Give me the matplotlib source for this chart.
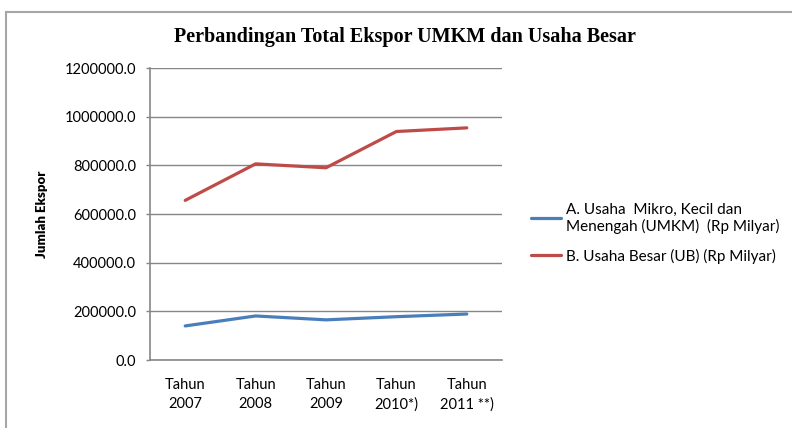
import matplotlib
matplotlib.use("Agg")
import matplotlib.pyplot as plt
from matplotlib.lines import Line2D
from matplotlib.ticker import FuncFormatter

# data
years = ["Tahun\n2007", "Tahun\n2008", "Tahun\n2009", "Tahun\n2010*)", "Tahun\n2011 **)"]
umkm = [140000.0, 181000.0, 165000.0, 178000.0, 189000.0]
besar = [656000.0, 806000.0, 790000.0, 939000.0, 954000.0]
label_umkm = "A. Usaha  Mikro, Kecil dan\nMenengah (UMKM)  (Rp Milyar)"
label_besar = "B. Usaha Besar (UB) (Rp Milyar)"
yticks = [0, 200000, 400000, 600000, 800000, 1000000, 1200000]

plt.rcParams['font.family'] = ['Lato', 'DejaVu Sans']

fig = plt.figure(figsize=(7.92, 4.28), dpi=100)
ax = fig.add_axes([150 / 792, (428 - 360) / 428, 352 / 792, 292 / 428])

x = list(range(len(years)))
ax.plot(x, umkm, color="#4a7ebb", lw=2.3, label=label_umkm, solid_capstyle="round")
ax.plot(x, besar, color="#be4b48", lw=2.3, label=label_besar, solid_capstyle="round")

ax.set_xlim(-0.5, len(years) - 0.5)
ax.set_ylim(0, 1200000)
ax.set_yticks(yticks)
ax.yaxis.set_major_formatter(FuncFormatter(lambda v, p: "%.1f" % v))
ax.set_xticks(x)
ax.set_xticklabels(years, fontsize=10.5, linespacing=1.45)
ax.tick_params(axis="x", length=0, pad=13)
ax.tick_params(axis="y", length=3, width=1, color="#868686", labelsize=10.5, pad=7)
ax.grid(axis="y", color="#868686", lw=1)
ax.set_axisbelow(True)
for s in ["top", "right"]:
    ax.spines[s].set_visible(False)
for s in ["left", "bottom"]:
    ax.spines[s].set_color("#868686")
    ax.spines[s].set_linewidth(1.2)

ax.set_ylabel("Jumlah Ekspor", fontsize=9.5, fontweight="heavy", labelpad=12)

fig.text(405 / 792, 1 - 37 / 428, "Perbandingan Total Ekspor UMKM dan Usaha Besar",
         family="Liberation Serif", fontweight="bold", fontsize=14.5,
         ha="center", va="center")

ax.legend(loc="center left", bbox_to_anchor=(517 / 792, 1 - 233 / 428),
          bbox_transform=fig.transFigure, frameon=False, fontsize=11,
          handlelength=2.0, handletextpad=0.3, labelspacing=0.95)

# outer chart border
fig.add_artist(Line2D([6 / 792, 6 / 792], [0, 1 - 12 / 428], color="#a6a6a6", lw=1.5))
fig.add_artist(Line2D([6 / 792, 1], [1 - 12 / 428, 1 - 12 / 428], color="#a6a6a6", lw=1.5))

fig.savefig("out.png", dpi=100)
